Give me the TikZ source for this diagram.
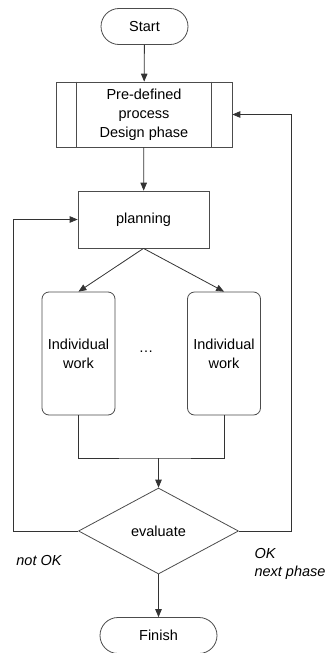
\documentclass[tikz,border=0pt]{standalone}
\usepackage{fontspec}
\setmainfont{Liberation Sans}
\usepackage{tikz}
\usetikzlibrary{shapes, arrows, positioning, calc, shapes.geometric, shapes.misc}

\tikzset{
    >=triangle 45,
    base/.style={draw=black!70, line width=0.8pt, fill=white, align=center, inner sep=0pt},
    term/.style={base, rounded rectangle, minimum height=36pt},
    proc/.style={base, rectangle},
    work/.style={base, rectangle, rounded corners=7pt, minimum width=73pt, minimum height=123pt},
    decide/.style={base, diamond, minimum width=160pt, minimum height=86pt},
    conn/.style={line width=0.8pt, black!80},
    remark/.style={font=\fontsize{14.5}{18.5}\selectfont\itshape, align=left}
}

\begin{document}
\begin{tikzpicture}[x=1pt, y=-1pt, font=\fontsize{14.5}{19}\selectfont]
\useasboundingbox (0,0) rectangle (328,653);

% Start and pre-defined process
\node[term, minimum width=87pt] (start) at (144.5, 26.5) {Start};
\node[proc, minimum width=176pt, minimum height=65pt] (pre) at (144, 114.5) {Pre-defined\\process\\Design phase};
\draw[conn, black!70] ($(pre.north west)+(21,0)$) -- ($(pre.south west)+(21,0)$);
\draw[conn, black!70] ($(pre.north east)+(-21,0)$) -- ($(pre.south east)+(-21,0)$);

% Planning and the individual work packages
\node[proc, minimum width=131pt, minimum height=57pt] (plan) at (143.5, 219.5) {planning};
\node[work] (work1) at (78.5, 353.5) {Individual\\work};
\node[work] (work2) at (224, 353.5) {Individual\\work};
\node (dots) at (146, 352) {\dots};

% Evaluation and finish
\coordinate (join) at (158.5, 458);
\node[decide] (eval) at (158.5, 531) {evaluate};
\node[term, minimum width=117pt] (finish) at (158.5, 635.5) {Finish};

\coordinate (leftx) at (13, 0);
\coordinate (rightx) at (291, 0);

% Connectors
\draw[conn, ->] (start) -- (pre);
\draw[conn, ->] (pre) -- (plan);
\draw[conn, ->] (plan.south) -- (work1.north);
\draw[conn, ->] (plan.south) -- (work2.north);
\draw[conn] (work1.south) |- (join) -| (work2.south);
\draw[conn, ->] (join) -- (eval.north);
\draw[conn, ->] (eval.south) -- (finish.north);
\draw[conn, ->] (eval.west) -- (eval.west -| leftx) |- (plan.west);
\draw[conn, ->] (eval.east) -- (eval.east -| rightx) |- (pre.east);

% Outcome labels
\node[remark] (notok) at (39, 561) {not OK};
\node[remark, anchor=west] (ok) at (251, 564) {OK\\next phase};

\end{tikzpicture}
\end{document}
